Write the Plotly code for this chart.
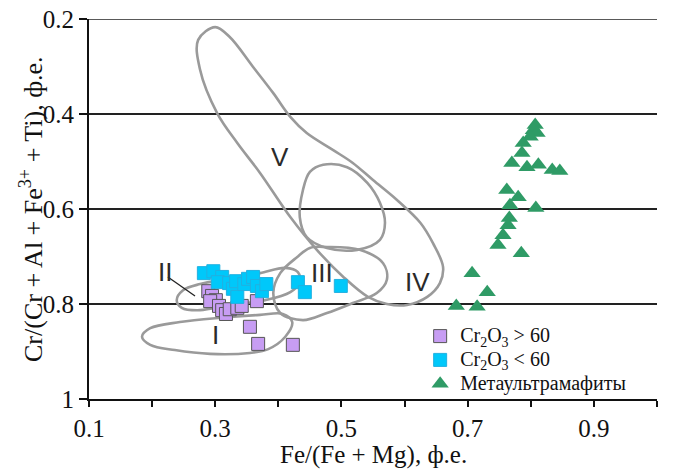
import plotly.graph_objects as go

# Spinel compositions: Fe/(Fe+Mg) vs Cr/(Cr+Al+Fe3+ +Ti)
hi_cr_x = [0.289, 0.295, 0.301, 0.292, 0.306, 0.311, 0.317, 0.323, 0.335, 0.342, 0.366, 0.355, 0.368, 0.423]
hi_cr_y = [0.773, 0.783, 0.792, 0.794, 0.804, 0.813, 0.821, 0.811, 0.808, 0.804, 0.794, 0.848, 0.884, 0.886]

lo_cr_x = [0.282, 0.297, 0.311, 0.304, 0.322, 0.328, 0.335, 0.333, 0.346, 0.352, 0.360, 0.366, 0.374, 0.381, 0.431, 0.442, 0.499]
lo_cr_y = [0.735, 0.731, 0.743, 0.754, 0.756, 0.768, 0.785, 0.752, 0.758, 0.747, 0.743, 0.762, 0.773, 0.758, 0.754, 0.775, 0.762]

meta_x = [0.807, 0.804, 0.810, 0.799, 0.788, 0.786, 0.770, 0.794, 0.812, 0.834, 0.846, 0.762,
          0.780, 0.767, 0.808, 0.766, 0.764, 0.756, 0.748, 0.785, 0.707, 0.731, 0.682, 0.715]
meta_y = [0.423, 0.434, 0.440, 0.448, 0.461, 0.482, 0.503, 0.512, 0.507, 0.518, 0.520, 0.560,
          0.575, 0.592, 0.598, 0.619, 0.634, 0.655, 0.676, 0.693, 0.735, 0.775, 0.804, 0.806]

# Field outlines (I - V)
field_v_x = [0.300, 0.323, 0.360, 0.392, 0.419, 0.445, 0.487, 0.518, 0.550, 0.588, 0.625, 0.645, 0.661,
             0.656, 0.636, 0.604, 0.572, 0.542, 0.503, 0.461, 0.419, 0.371, 0.335, 0.303, 0.276, 0.273, 0.300]
field_v_y = [0.217, 0.238, 0.301, 0.356, 0.406, 0.440, 0.476, 0.503, 0.539, 0.581, 0.629, 0.672, 0.722,
             0.756, 0.785, 0.802, 0.800, 0.785, 0.743, 0.686, 0.617, 0.524, 0.461, 0.398, 0.307, 0.244, 0.217]

field_loop_x = [0.471, 0.509, 0.541, 0.561, 0.569, 0.561, 0.525, 0.477, 0.445, 0.434, 0.439, 0.450, 0.471]
field_loop_y = [0.507, 0.512, 0.545, 0.587, 0.629, 0.665, 0.686, 0.682, 0.659, 0.617, 0.560, 0.522, 0.507]

field_iii_x = [0.477, 0.529, 0.566, 0.572, 0.556, 0.518, 0.477, 0.439, 0.403, 0.392, 0.403, 0.430, 0.450, 0.477]
field_iii_y = [0.680, 0.686, 0.714, 0.749, 0.777, 0.798, 0.819, 0.834, 0.819, 0.777, 0.735, 0.701, 0.682, 0.680]

field_ii_x = [0.239, 0.249, 0.276, 0.323, 0.371, 0.411, 0.431, 0.434, 0.419, 0.379, 0.323, 0.276, 0.247, 0.239]
field_ii_y = [0.792, 0.771, 0.758, 0.747, 0.735, 0.724, 0.733, 0.754, 0.775, 0.792, 0.802, 0.813, 0.808, 0.792]

field_i_x = [0.184, 0.197, 0.244, 0.308, 0.371, 0.407, 0.422, 0.411, 0.384, 0.355, 0.292, 0.236, 0.197, 0.184]
field_i_y = [0.869, 0.851, 0.838, 0.829, 0.823, 0.821, 0.838, 0.869, 0.895, 0.903, 0.905, 0.897, 0.886, 0.869]

field_names = ["V", "IV", "III", "II", "I"]
field_label_x = [0.403, 0.621, 0.469, 0.220, 0.300]
field_label_y = [0.491, 0.754, 0.735, 0.733, 0.865]

leader_x = [0.225, 0.268]
leader_y = [0.743, 0.783]

x_tick_vals = [0.1, 0.3, 0.5, 0.7, 0.9]
x_tick_text = ["0.1", "0.3", "0.5", "0.7", "0.9"]
y_tick_vals = [0.2, 0.4, 0.6, 0.8, 1.0]
y_tick_text = ["0.2", "0.4", "0.6", "0.8", "1"]

series_names = ["Cr<sub>2</sub>O<sub>3</sub> > 60", "Cr<sub>2</sub>O<sub>3</sub> < 60", "Метаультрамафиты"]
x_title = "Fe/(Fe + Mg), ф.е."
y_title = "Cr/(Cr + Al + Fe<sup>3+</sup> + Ti), ф.е."

SERIF = "Liberation Serif"
SANS = "Liberation Sans"
INK = "#111111"


def legend_label(text):
    # larger label text while keeping compact legend rows
    return '<span style="font-size:20px">' + text + '</span>'


fig = go.Figure()

for fx, fy in [(field_v_x, field_v_y), (field_loop_x, field_loop_y), (field_iii_x, field_iii_y),
               (field_ii_x, field_ii_y), (field_i_x, field_i_y)]:
    fig.add_trace(go.Scatter(x=fx, y=fy, mode="lines", showlegend=False, hoverinfo="skip",
                             line=dict(color="#9a9a9a", width=2.6, shape="spline", smoothing=1.0)))

fig.add_trace(go.Scatter(x=leader_x, y=leader_y, mode="lines", showlegend=False, hoverinfo="skip",
                         line=dict(color="#222222", width=1.3)))

fig.add_trace(go.Scatter(x=hi_cr_x, y=hi_cr_y, mode="markers", name=legend_label(series_names[0]),
                         marker=dict(symbol="square", size=13, color="#c79df3",
                                     line=dict(color="#555555", width=1))))
fig.add_trace(go.Scatter(x=lo_cr_x, y=lo_cr_y, mode="markers", name=legend_label(series_names[1]),
                         marker=dict(symbol="square", size=13, color="#00c8fa",
                                     line=dict(color="#22b0e0", width=1))))
fig.add_trace(go.Scatter(x=meta_x, y=meta_y, mode="markers", name=legend_label(series_names[2]),
                         marker=dict(symbol="triangle-up", size=15, color="#2f9b66",
                                     line=dict(width=0))))

for name, lx, ly in zip(field_names, field_label_x, field_label_y):
    fig.add_annotation(x=lx, y=ly, xref="x", yref="y", text=name, showarrow=False,
                       font=dict(family=SANS, size=26, color="#2a2a2a"))

# Axis titles
fig.add_annotation(x=0.5, y=0, xref="paper", yref="paper", yshift=-56, text=x_title,
                   showarrow=False, xanchor="center", yanchor="middle",
                   font=dict(family=SERIF, size=25, color=INK))
fig.add_annotation(x=0, y=0.5, xref="paper", yref="paper", xshift=-58, text=y_title,
                   textangle=-90, showarrow=False, xanchor="center", yanchor="middle",
                   font=dict(family=SERIF, size=26, color=INK))

# Frame line across the top of the plotting area
fig.add_shape(type="line", xref="paper", yref="y", x0=0, x1=1, y0=0.2, y1=0.2,
              line=dict(color="#222222", width=1.6), layer="below")

fig.update_layout(
    width=674, height=472,
    margin=dict(l=89, r=17, t=19, b=73, autoexpand=False),
    paper_bgcolor="white", plot_bgcolor="white",
    font=dict(family=SERIF, size=20, color=INK),
    legend=dict(x=0.583, y=0.21, xanchor="left", yanchor="top",
                bgcolor="rgba(0,0,0,0)", font=dict(family=SERIF, size=16, color=INK),
                tracegroupgap=0, itemwidth=30),
    xaxis=dict(range=[0.1, 1.0], tickvals=x_tick_vals, ticktext=x_tick_text, automargin=False,
               ticks="outside", ticklen=6, tickwidth=1.5, tickcolor=INK,
               minor=dict(dtick=0.1, tick0=0.1, ticks="outside", ticklen=6, tickwidth=1.5,
                          tickcolor=INK, showgrid=False),
               showline=True, linecolor=INK, linewidth=2, showgrid=False, zeroline=False,
               tickfont=dict(family=SERIF, size=25, color=INK)),
    yaxis=dict(range=[1.0, 0.2], tickvals=y_tick_vals, ticktext=y_tick_text, automargin=False,
               ticks="outside", ticklen=8, tickwidth=1.5, tickcolor=INK,
               showline=True, linecolor=INK, linewidth=2,
               showgrid=True, gridcolor="#222222", gridwidth=1.6, zeroline=False,
               tickfont=dict(family=SERIF, size=25, color=INK)),
)

fig.write_html("out.html")
